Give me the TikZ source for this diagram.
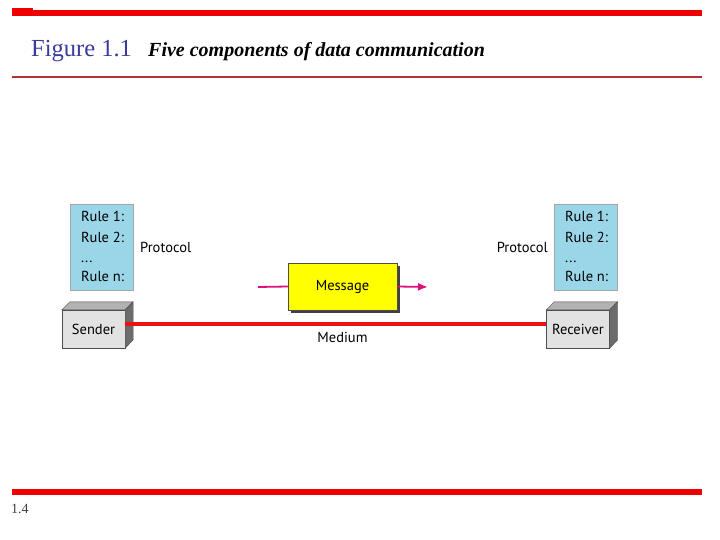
\documentclass[tikz,border=0pt]{standalone}
\usepackage{fontspec}
\usetikzlibrary{arrows.meta}
\setmainfont{Liberation Serif}
\newfontfamily\diagfont{PT Sans}
\definecolor{barred}{HTML}{EE0000}
\definecolor{linered}{HTML}{B03434}
\definecolor{figblue}{HTML}{3B3B9E}
\definecolor{rulebg}{HTML}{9AD6E8}
\definecolor{msgyellow}{HTML}{FFFF00}
\definecolor{boxgray}{HTML}{E2E2E2}
\definecolor{magentaline}{HTML}{E0107A}
\definecolor{medred}{HTML}{EE1111}
\tikzset{
  rulebox/.style={draw=gray!70, fill=rulebg, minimum width=63pt, minimum height=86pt, inner sep=0pt},
  ruletext/.style={font=\diagfont\fontsize{14.5}{17}\selectfont, align=left},
  lbl/.style={font=\diagfont\fontsize{14.5}{17}\selectfont},
  front/.style={draw=black!70, fill=boxgray, minimum width=63pt, minimum height=38pt, inner sep=0pt, font=\diagfont\fontsize{14.5}{17}\selectfont},
}
\begin{document}
\begin{tikzpicture}[x=1pt,y=-1pt]
\useasboundingbox (0,0) rectangle (720,540);
% top and bottom bars
\fill[barred] (12,10) rectangle (702,16);
\fill[barred] (12,8) rectangle (33,11);
\draw[linered, line width=2pt] (12,77) -- (702,77);
\fill[barred] (12,489) rectangle (702,495);
\node[anchor=base west, inner sep=0pt, text=black!75, font=\fontsize{14}{16}\selectfont] (pg) at (11,513) {1.4};
% title
\node[anchor=base west, inner sep=0pt, text=figblue, font=\fontsize{24.5}{28}\selectfont] (fig) at (31,57) {Figure 1.1};
\node[anchor=base west, inner sep=0pt, font=\bfseries\itshape\fontsize{20}{24}\selectfont] (cap) at (148,57) {Five components of data communication};
% rule boxes
\node[rulebox] (rl) at (101.5,247) {};
\node[rulebox] (rr) at (586,247) {};
\foreach \b/\x in {rl/81,rr/565}{
  \node[ruletext, anchor=base west, inner sep=0pt] at (\x,222) {Rule 1:};
  \node[ruletext, anchor=base west, inner sep=0pt] at (\x,242) {Rule 2:};
  \node[ruletext, anchor=base west, inner sep=0pt] at (\x,262) {...};
  \node[ruletext, anchor=base west, inner sep=0pt] at (\x,281) {Rule n:};
}
\node[lbl, anchor=base west, inner sep=0pt] (pl) at (140,252) {Protocol};
\node[lbl, anchor=base east, inner sep=0pt] (pr) at (548,252) {Protocol};
% sender / receiver 3D boxes
\node[front] (snd) at (93.5,329) {Sender};
\node[front] (rcv) at (578,329) {Receiver};
\foreach \n in {snd,rcv}{
  \fill[gray!60, draw=black!70] (\n.north west) -- ++(8,-8) -- ++(63,0) -- (\n.north east) -- cycle;
  \fill[gray!85!black, draw=black!70] (\n.north east) -- ++(8,-8) -- ++(0,38) -- (\n.south east) -- cycle;
}
% medium
\draw[medred, line width=4pt] ([yshift=5pt]snd.east) -- ([yshift=5pt]rcv.west);
\node[lbl, anchor=base, inner sep=0pt] (med) at (342.5,342) {Medium};
% message
\fill[black!75] (291,266) rectangle (400,312.5);
\node[draw=black!70, fill=msgyellow, minimum width=109pt, minimum height=47pt, inner sep=0pt, font=\diagfont\fontsize{14.5}{17}\selectfont] (msg) at (342.5,286.5) {Message};
\coordinate (min) at (258,287);
\coordinate (mout) at (428,287);
\draw[magentaline, line width=1.8pt] (min) -- (msg.west);
\draw[magentaline, line width=1.8pt, -{Latex[length=10pt,width=8pt]}] (msg.east) -- (mout);
\end{tikzpicture}
\end{document}
